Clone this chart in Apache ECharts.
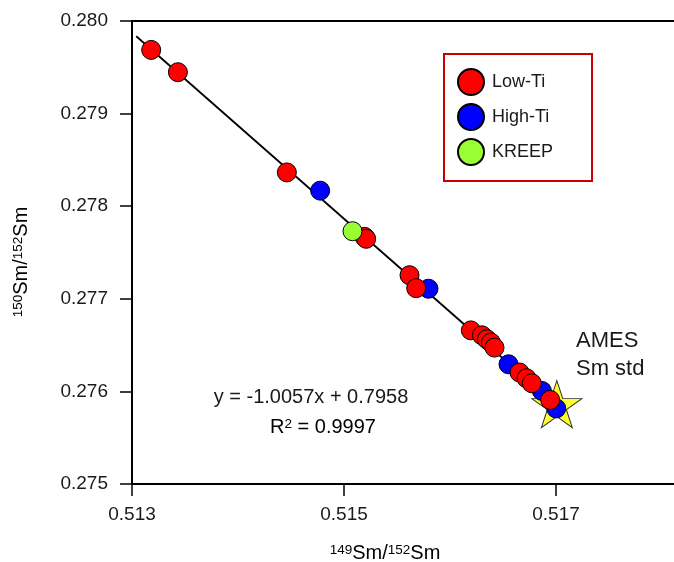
<!DOCTYPE html>
<html>
<head>
<meta charset="utf-8">
<script src="https://cdn.jsdelivr.net/npm/echarts@6/dist/echarts.min.js"></script>
<style>
  html, body { margin: 0; padding: 0; background: #ffffff; }
  #chart { width: 674px; height: 562px; }
</style>
</head>
<body>
<div id="chart"></div>
<script>
// Sm isotope ratios of lunar samples (149Sm/152Sm vs 150Sm/152Sm)
const lowTiX = [0.513181, 0.513433, 0.514461, 0.515193, 0.515209, 0.515618, 0.515681, 0.516197,
                0.516301, 0.516348, 0.516386, 0.516420, 0.516656, 0.516722, 0.516772, 0.516945];
const lowTiY = [0.279688, 0.279447, 0.278365, 0.277669, 0.277648, 0.277255, 0.277115, 0.276659,
                0.276606, 0.276563, 0.276527, 0.276473, 0.276204, 0.276142, 0.276088, 0.275908];
const highTiX = [0.514775, 0.515797, 0.516552, 0.516867, 0.517002];
const highTiY = [0.278168, 0.277109, 0.276293, 0.276005, 0.275816];
const kreepX = [0.515080];
const kreepY = [0.277730];
const amesX = [0.517008];
const amesY = [0.275862];

// linear fit: y = slope * x + intercept
const fitSlope = -1.0057;
const fitIntercept = 0.7958;
const fitR2 = 0.9997;
const fitXRange = [0.51304, 0.51700];

const seriesNames = ['Low-Ti', 'High-Ti', 'KREEP'];
const xTickValues = [0.513, 0.515, 0.517, 0.519];
const yTickValues = [0.275, 0.276, 0.277, 0.278, 0.279, 0.280];

const FONT = '"Liberation Sans", Arial, Helvetica, sans-serif';
const pairs = (xs, ys) => xs.map((x, i) => [x, ys[i]]);
const fitLine = fitXRange.map(x => [x, fitSlope * x + fitIntercept]);

const starPath = 'path://M100 0 L122.45 69.1 L195.1 69.1 L136.3 111.8 L158.8 180.9 L100 138.2 L41.2 180.9 L63.7 111.8 L4.9 69.1 L77.55 69.1 Z';

const chart = echarts.init(document.getElementById('chart'), null, { renderer: 'canvas' });

const supRich = {
  base: { fontSize: 20, fontFamily: FONT, color: '#1a1a1a' },
  sup: { fontSize: 13.5, fontFamily: FONT, color: '#1a1a1a', verticalAlign: 'top' }
};

chart.setOption({
  animation: false,
  backgroundColor: '#ffffff',
  grid: {
    left: 132, top: 21, bottom: 78, right: -94,
    containLabel: false, outerBoundsMode: 'none',
    show: true, borderColor: '#000', borderWidth: 2, backgroundColor: 'transparent'
  },
  xAxis: {
    type: 'value',
    min: xTickValues[0], max: xTickValues[xTickValues.length - 1], interval: 0.002,
    axisLine: { show: true, onZero: false, lineStyle: { color: '#000', width: 2 } },
    axisTick: { show: true, inside: false, length: 12, lineStyle: { color: '#000', width: 1.5 } },
    axisLabel: {
      margin: 21, fontSize: 19, fontFamily: FONT, color: '#1a1a1a',
      formatter: v => v.toFixed(3)
    },
    splitLine: { show: false }
  },
  yAxis: {
    type: 'value',
    min: yTickValues[0], max: yTickValues[yTickValues.length - 1], interval: 0.001,
    axisLine: { show: true, onZero: false, lineStyle: { color: '#000', width: 2 } },
    axisTick: { show: true, inside: false, length: 12, lineStyle: { color: '#000', width: 1.5 } },
    axisLabel: {
      margin: 24, fontSize: 19, fontFamily: FONT, color: '#1a1a1a',
      formatter: v => v.toFixed(3)
    },
    splitLine: { show: false }
  },
  legend: {
    data: seriesNames,
    orient: 'vertical',
    left: 444, top: 54,
    padding: [14, 39, 15, 13],
    itemWidth: 26, itemHeight: 26, itemGap: 7,
    icon: 'circle',
    borderColor: '#c80000', borderWidth: 2, backgroundColor: '#ffffff',
    textStyle: { fontSize: 18, fontFamily: FONT, color: '#1a1a1a', padding: [0, 0, 0, 3] },
    selectedMode: false
  },
  series: [
    {
      name: 'fit', type: 'line', data: fitLine, showSymbol: false, symbol: 'none',
      lineStyle: { color: '#000', width: 1.8 }, z: 1, silent: true
    },
    {
      name: 'AMES Sm std', type: 'scatter', data: pairs(amesX, amesY),
      symbol: starPath, symbolSize: [50, 47],
      itemStyle: { color: '#ffff00', borderColor: '#000', borderWidth: 1 }, z: 2
    },
    {
      name: 'High-Ti', type: 'scatter', data: pairs(highTiX, highTiY), symbolSize: 19,
      itemStyle: { color: '#0000ff', borderColor: '#000', borderWidth: 1, opacity: 1 }, z: 3
    },
    {
      name: 'Low-Ti', type: 'scatter', data: pairs(lowTiX, lowTiY), symbolSize: 19,
      itemStyle: { color: '#ff0000', borderColor: '#000', borderWidth: 1, opacity: 1 }, z: 4
    },
    {
      name: 'KREEP', type: 'scatter', data: pairs(kreepX, kreepY), symbolSize: 19,
      itemStyle: { color: '#99ff33', borderColor: '#000', borderWidth: 1, opacity: 1 }, z: 5
    }
  ],
  graphic: [
    {
      type: 'text', x: 385, y: 553,
      style: {
        text: '{sup|149}{base|Sm/}{sup|152}{base|Sm}', rich: supRich,
        align: 'center', verticalAlign: 'middle'
      }
    },
    {
      type: 'text', x: 21, y: 262, rotation: Math.PI / 2,
      style: {
        text: '{sup|150}{base|Sm/}{sup|152}{base|Sm}', rich: supRich,
        align: 'center', verticalAlign: 'middle'
      }
    },
    {
      type: 'text', x: 311, y: 397,
      style: {
        text: 'y = ' + fitSlope.toFixed(4) + 'x + ' + fitIntercept.toFixed(4),
        fontSize: 20, fontFamily: FONT, fill: '#1a1a1a',
        align: 'center', verticalAlign: 'middle'
      }
    },
    {
      type: 'text', x: 323, y: 427,
      style: {
        text: '{base|R}{sup|2}{base| = ' + fitR2.toFixed(4) + '}',
        rich: supRich,
        align: 'center', verticalAlign: 'middle'
      }
    },
    {
      type: 'text', x: 576, y: 355,
      style: {
        text: 'AMES\nSm std', fontSize: 22, lineHeight: 28, fontFamily: FONT, fill: '#1a1a1a',
        align: 'left', verticalAlign: 'middle'
      }
    }
  ]
});
</script>
</body>
</html>
